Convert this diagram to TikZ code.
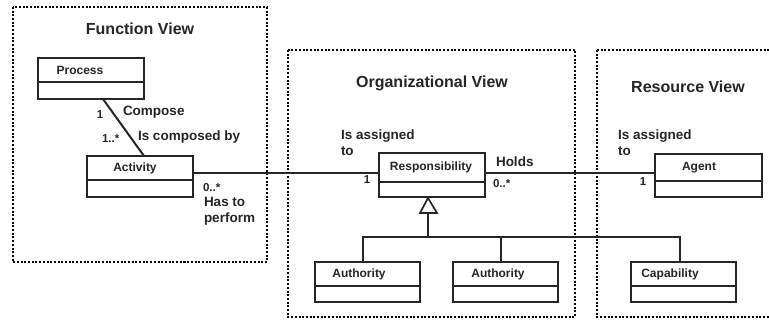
\documentclass[tikz,border=0pt]{standalone}
\usepackage{fontspec}
\setmainfont{Liberation Sans}
\begin{document}
\begin{tikzpicture}[x=1pt,y=-1pt,
  line width=2pt, line cap=butt,
  view/.style={draw=black, line width=2.3pt, dash pattern=on 2pt off 1.7pt},
  title/.style={font=\fontsize{16}{19}\selectfont\bfseries, inner sep=0pt, text=black!85},
  cname/.style={font=\fontsize{12}{14}\selectfont\bfseries, inner sep=0pt, text=black!85},
  lbl/.style={font=\fontsize{13.5}{16}\selectfont\bfseries, inner sep=0pt, anchor=west, align=left, text=black!85},
  mult/.style={font=\fontsize{11.5}{13}\selectfont\bfseries, inner sep=0pt, text=black!85},
  cls/.style={draw=black!85, rectangle, inner sep=0pt, line width=2pt}]
\useasboundingbox (0,0) rectangle (769,321);
\fill[white] (0,0) rectangle (769,321);

% views
\draw[view] (13,7) rectangle (267,262);
\draw[view] (288,50) rectangle (575,317);
\draw[view] (597,50) -- (780,50) (597,50) -- (597,317) -- (780,317);
\node[title] (tf) at (140,29) {Function View};
\node[title] (to) at (432,83) {Organizational View};
\node[title] (tr) at (688,87) {Resource View};

% classes
\newcommand{\umlcls}[8]{%
  \node[cls, minimum width=#4-#2, minimum height=#5-#3] (#1) at ({(#2+#4)/2},{(#3+#5)/2}) {};
  \draw[black!85, line width=1.7pt] (#2,#6) -- (#4,#6);
  \node[cname] (#1t) at (#7,{(#3+#6)/2}) {#8};}
\umlcls{process}{38}{58}{144}{99}{82}{80}{Process}
\umlcls{activity}{87}{156}{193}{197}{180}{135}{Activity}
\umlcls{resp}{379}{153}{485}{197}{182}{431}{Responsibility}
\umlcls{agent}{655}{154}{762}{197}{181}{699}{Agent}
\umlcls{auth1}{315}{262}{420}{302}{286}{359}{Authority}
\umlcls{auth2}{453}{262}{558}{302}{286}{498}{Authority}
\umlcls{capab}{631}{262}{736}{302}{286}{670}{Capability}

% associations
\coordinate (pa) at (103,99);
\coordinate (ap) at (144,156);
\draw[black!85] (pa) -- (ap);
\draw[black!85] (activity.east |- 0,173) -- (resp.west |- 0,173);
\draw[black!85] (resp.east |- 0,173) -- (agent.west |- 0,173);

\node[mult] (m1) at (100,115) {1};
\node[lbl] (l1) at (122,112) {Compose};
\node[mult, anchor=west] (m2) at (101,139) {1..*};
\node[lbl] (l2) at (137,137) {Is composed by};
\node[mult, anchor=west] (m3) at (202,188) {0..*};
\node[lbl, anchor=north west] (l3) at (203,196) {Has to\\perform};
\node[lbl, anchor=north west] (l4) at (340,129) {Is assigned\\to};
\node[mult] (m4) at (367,180) {1};
\node[lbl] (l5) at (495,162) {Holds};
\node[mult, anchor=west] (m5) at (492,184) {0..*};
\node[lbl, anchor=north west] (l6) at (617,129) {Is assigned\\to};
\node[mult] (m6) at (643,182) {1};

% generalization
\coordinate (gtop) at (428,198);
\coordinate (gbase) at (428,213);
\coordinate (gbar) at (428,237);
\draw[black!85, line width=1.7pt, line join=miter] (gtop) -- (420,213) -- (437,213) -- cycle;
\draw[black!85] (gbase) -- (gbar);
\draw[black!85] (362,237) -- (681,237);
\draw[black!85] (auth1.north -| 363,0) -- (363,237);
\draw[black!85] (auth2.north -| 501,0) -- (501,237);
\draw[black!85] (capab.north -| 680,0) -- (680,237);
\end{tikzpicture}
\end{document}
